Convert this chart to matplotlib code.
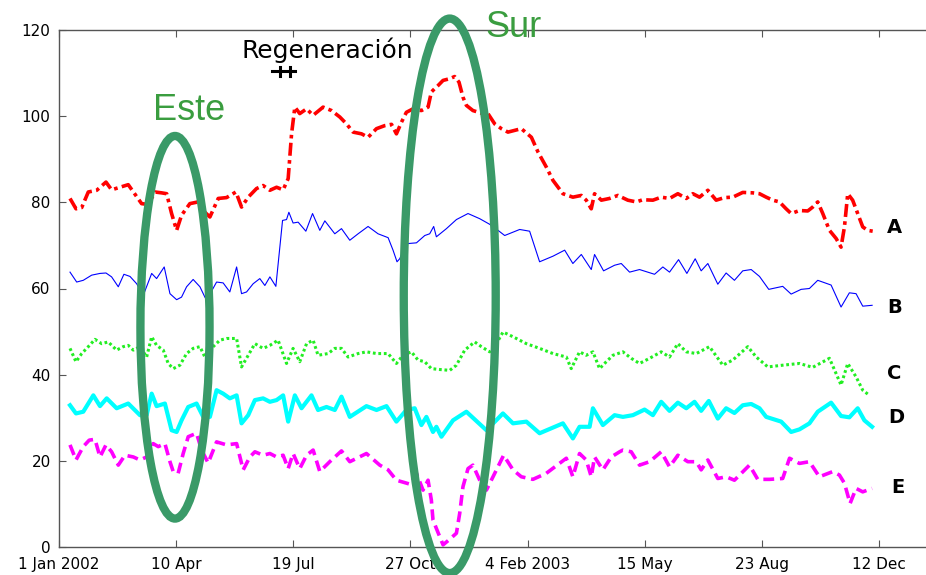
import matplotlib
matplotlib.use("Agg")
import matplotlib.pyplot as plt
from matplotlib.patches import Ellipse

# ---------------- data (x = days since 1 Jan 2002) ----------------
tick_days = [0, 100, 200, 300, 400, 500, 600, 700]
tick_labels = ['1 Jan 2002', '10 Apr', '19 Jul', '27 Oct', '4 Feb 2003', '15 May', '23 Aug', '12 Dec']
y_ticks = [0, 20, 40, 60, 80, 100, 120]

days_A = [9.4, 14.5, 19.4, 25.0, 32.2, 40.1, 44.9, 52.0, 59.1, 64.8, 70.5, 76.2, 81.9, 87.6, 91.9, 96.1,
          100.4, 104.6, 111.7, 118.8, 124.5, 128.8, 135.9, 143.0, 151.0, 155.8, 161.5, 168.6, 174.2, 180.0,
          185.7, 191.3, 195.6, 198.5, 201.3, 205.5, 211.3, 216.9, 225.4, 232.6, 239.7, 245.4, 251.0, 258.2,
          263.8, 271.0, 278.0, 283.8, 288.0, 292.3, 296.5, 302.2, 309.3, 315.0, 317.8, 320.7, 323.5, 327.8,
          333.5, 337.7, 341.4, 344.8, 347.7, 353.3, 360.5, 366.1, 371.9, 377.6, 383.2, 388.9, 394.6, 403.2,
          408.8, 415.9, 421.6, 430.1, 438.6, 445.8, 450.0, 454.3, 457.1, 462.9, 469.9, 477.0, 485.5, 492.7,
          498.3, 506.9, 514.0, 521.1, 528.2, 535.4, 541.0, 546.7, 553.8, 560.9, 568.0, 575.1, 583.6, 592.2,
          597.9, 603.6, 609.2, 614.9, 620.6, 624.9, 632.0, 639.1, 643.3, 647.6, 651.9, 657.6, 663.3, 667.5,
          670.4, 673.2, 677.4, 681.7, 686.0, 690.2, 694.5]
vals_A = [80.9, 78.5, 78.8, 82.4, 82.8, 84.7, 82.9, 83.5, 84.1, 81.9, 79.7, 79.5, 82.4, 82.2, 82.0, 77.4,
          73.5, 77.0, 79.7, 80.1, 77.7, 76.6, 80.9, 81.1, 82.4, 78.9, 81.2, 83.2, 83.9, 82.8,
          83.5, 82.9, 85.5, 95.9, 102.1, 100.6, 101.7, 100.2, 102.1, 101.3, 99.8, 98.2, 96.3, 95.9,
          95.1, 97.1, 97.8, 98.1, 95.9, 98.6, 100.9, 101.7, 101.3, 102.1, 105.6, 106.4, 107.1, 108.3,
          108.7, 109.2, 107.9, 104.4, 102.5, 101.3, 100.7, 100.6, 98.2, 97.1, 96.3, 96.7, 97.1, 95.1,
          91.7, 88.2, 85.1, 82.0, 81.2, 81.6, 80.5, 78.5, 82.0, 80.5, 80.9, 81.6, 80.5, 80.1,
          80.6, 80.5, 81.2, 80.9, 82.0, 80.9, 82.0, 81.2, 82.8, 80.5, 81.1, 81.2, 82.3, 82.2,
          82.0, 81.2, 80.5, 80.1, 78.5, 77.4, 78.1, 78.0, 78.9, 80.1, 77.4, 73.5, 71.6, 69.6,
          74.3, 82.0, 80.5, 77.4, 74.3, 73.5, 73.3]

days_B = [9.4, 15.1, 20.7, 27.9, 35.0, 40.1, 44.9, 50.6, 55.4, 60.6, 66.3, 71.9, 79.1, 83.3, 89.8, 94.7,
          100.4, 104.6, 108.9, 114.5, 120.3, 124.5, 126.0, 134.5, 140.1, 145.8, 151.6, 155.8, 160.1, 165.7,
          171.4, 175.7, 180.0, 185.1, 190.8, 194.2, 196.2, 199.8, 204.1, 210.7, 216.4, 222.6, 226.9, 235.4,
          241.1, 248.2, 255.3, 263.8, 272.3, 280.9, 285.1, 288.5, 290.8, 296.5, 305.1, 312.2, 316.4, 319.8,
          322.1, 330.7, 339.2, 349.1, 359.1, 367.6, 374.7, 380.4, 393.2, 401.7, 410.2, 421.6, 431.6, 438.6,
          445.8, 454.3, 457.1, 464.8, 474.2, 479.9, 487.0, 495.5, 508.3, 515.4, 521.1, 528.8, 535.9, 543.0,
          548.1, 553.8, 562.3, 569.4, 576.5, 583.6, 590.8, 597.9, 605.8, 617.7, 624.9, 633.4, 640.5, 647.6,
          659.0, 667.5, 674.6, 680.3, 686.0, 694.0]
vals_B = [63.8, 61.5, 61.9, 63.1, 63.5, 63.6, 62.7, 60.4, 63.3, 62.8, 61.1, 58.4, 63.5, 62.3, 65.0, 58.8,
          57.4, 58.0, 60.4, 62.1, 60.4, 58.0, 57.3, 61.5, 61.3, 59.2, 65.0, 58.8, 59.2, 61.1,
          62.3, 60.7, 62.7, 60.5, 75.8, 76.0, 77.7, 75.2, 75.4, 73.3, 77.4, 73.5, 75.7, 72.7,
          73.9, 71.2, 72.7, 74.4, 72.7, 71.8, 68.9, 66.2, 66.9, 70.4, 70.6, 72.3, 72.7, 74.4,
          72.0, 73.9, 76.0, 77.4, 76.2, 74.9, 73.5, 72.3, 73.7, 73.3, 66.2, 67.5, 68.9, 65.8,
          67.9, 64.4, 67.9, 64.1, 65.4, 65.8, 63.8, 64.4, 63.3, 65.0, 63.8, 66.7, 63.5, 66.9,
          64.1, 65.8, 61.0, 63.6, 61.9, 64.1, 64.4, 62.8, 59.8, 60.5, 58.7, 59.8, 60.0, 61.9,
          60.8, 55.7, 59.0, 58.8, 55.9, 56.1]

days_C = [9.4, 14.5, 19.4, 25.0, 30.7, 36.4, 42.0, 49.2, 54.8, 59.1, 63.4, 69.1, 74.8, 79.1, 83.3, 89.0,
          93.2, 97.5, 103.2, 108.9, 114.5, 120.3, 124.5, 131.6, 137.3, 143.0, 151.6, 155.8, 161.5, 167.2,
          174.2, 180.0, 187.0, 194.2, 199.8, 205.5, 211.3, 216.9, 221.1, 229.7, 235.4, 241.1, 246.7, 255.3,
          262.4, 271.0, 280.9, 288.0, 293.6, 300.8, 306.4, 312.2, 317.8, 324.9, 333.5, 339.2, 346.3, 354.8,
          360.5, 367.6, 373.3, 379.0, 387.5, 398.9, 410.2, 421.6, 433.0, 437.2, 444.3, 450.0, 455.7, 461.4,
          467.1, 472.8, 481.3, 488.4, 495.5, 504.1, 514.0, 521.1, 528.2, 535.4, 543.9, 555.2, 566.6, 575.1,
          587.9, 595.1, 605.0, 617.7, 632.0, 643.3, 657.6, 667.5, 673.2, 680.3, 686.0, 691.7]
vals_C = [46.1, 43.0, 44.9, 46.5, 48.2, 47.2, 47.6, 45.7, 46.5, 46.8, 45.7, 46.5, 44.1, 48.8, 46.8, 45.7,
          42.6, 41.4, 42.2, 44.9, 46.1, 46.5, 44.1, 46.5, 48.0, 48.4, 48.4, 41.8, 44.5, 47.2,
          46.1, 46.8, 48.0, 42.6, 46.1, 43.0, 47.2, 48.0, 44.5, 44.9, 46.1, 46.1, 44.1, 44.9,
          45.3, 44.9, 44.9, 42.6, 44.5, 45.3, 43.4, 43.0, 41.4, 41.2, 41.0, 42.2, 45.7, 47.6,
          46.5, 45.3, 47.2, 49.9, 48.8, 47.2, 46.1, 44.9, 44.1, 41.4, 45.3, 44.5, 45.3, 41.4,
          43.0, 44.5, 45.3, 43.8, 42.6, 43.8, 45.3, 44.1, 47.2, 45.3, 44.9, 46.5, 42.2, 43.4,
          46.5, 44.1, 41.8, 42.2, 42.6, 41.7, 43.8, 37.6, 42.6, 39.5, 36.4, 35.2]

days_D = [9.4, 14.5, 20.7, 29.3, 35.0, 40.7, 49.2, 59.1, 69.1, 74.8, 79.1, 83.3, 90.4, 96.1, 100.4, 104.6,
          110.3, 117.4, 123.1, 128.8, 134.5, 140.1, 145.8, 151.6, 155.8, 161.5, 167.2, 174.2, 180.0, 185.7,
          191.3, 195.6, 201.3, 207.0, 215.5, 221.1, 228.3, 235.4, 241.1, 248.2, 262.4, 271.0, 279.5, 288.0,
          296.5, 303.6, 309.3, 313.6, 319.2, 322.1, 326.4, 336.3, 347.7, 364.8, 378.9, 387.5, 398.9, 410.2,
          430.1, 438.6, 444.3, 452.9, 455.7, 464.2, 474.2, 481.3, 489.8, 499.8, 506.9, 514.0, 521.1, 528.2,
          535.4, 542.4, 548.1, 554.6, 562.3, 569.4, 576.5, 583.6, 590.8, 597.9, 603.6, 616.4, 624.9, 632.0,
          640.5, 647.6, 659.0, 667.5, 674.6, 681.7, 687.4, 694.0]
vals_D = [32.9, 31.0, 31.4, 35.2, 32.7, 34.5, 32.2, 33.3, 30.6, 30.6, 35.6, 32.7, 33.3, 27.1, 26.7, 29.4,
          32.5, 33.3, 30.2, 30.2, 36.4, 35.6, 34.5, 35.2, 28.7, 30.6, 34.1, 34.5, 33.7, 34.1,
          35.2, 29.1, 35.2, 32.2, 35.2, 31.8, 32.5, 31.8, 34.9, 30.2, 32.7, 31.8, 32.7, 29.1,
          31.8, 32.2, 28.3, 30.2, 26.7, 27.9, 25.6, 29.4, 31.4, 27.1, 31.0, 28.7, 29.1, 26.4,
          28.7, 25.2, 27.9, 27.9, 32.2, 28.3, 30.6, 30.2, 30.6, 31.9, 30.6, 33.7, 31.6, 33.5,
          32.2, 33.7, 31.6, 33.9, 29.8, 32.2, 31.1, 32.9, 33.2, 32.2, 30.2, 29.1, 26.7, 27.3,
          28.7, 31.4, 33.5, 30.4, 30.1, 32.2, 29.4, 27.9]

days_E = [9.4, 14.5, 20.7, 25.8, 30.7, 35.0, 40.1, 44.9, 50.6, 56.3, 63.4, 69.1, 74.8, 80.4, 84.7, 90.4,
          94.7, 97.5, 101.7, 106.0, 110.3, 117.4, 121.7, 127.3, 134.5, 143.0, 151.6, 157.2, 162.9, 167.2,
          174.2, 180.0, 185.7, 191.3, 195.6, 199.8, 205.5, 211.3, 216.9, 222.6, 231.1, 241.1, 248.2, 262.4,
          273.8, 280.9, 288.0, 299.4, 305.1, 310.7, 315.0, 317.8, 319.2, 322.1, 327.8, 333.5, 339.2, 342.0,
          344.8, 349.1, 353.3, 359.1, 364.8, 371.9, 379.5, 387.5, 394.6, 404.5, 415.9, 433.0, 438.6, 444.3,
          450.0, 454.3, 457.1, 464.2, 471.4, 478.5, 481.3, 488.4, 495.5, 504.1, 514.0, 521.1, 528.2, 536.7,
          543.9, 548.1, 553.8, 562.3, 569.4, 576.5, 589.3, 596.4, 606.4, 617.7, 623.5, 632.0, 640.5, 649.0,
          660.4, 666.1, 670.4, 675.2, 680.3, 686.0, 694.0]
vals_E = [23.7, 20.2, 23.3, 24.8, 25.0, 20.9, 23.7, 22.1, 19.0, 21.3, 20.9, 20.2, 20.9, 24.0, 23.3, 24.0,
          19.8, 17.5, 17.1, 21.7, 25.6, 26.4, 22.5, 19.5, 24.4, 23.7, 24.0, 17.9, 20.9, 22.1,
          21.3, 21.7, 20.9, 21.3, 18.2, 21.7, 18.2, 21.3, 22.5, 17.5, 19.8, 22.3, 19.8, 21.7,
          19.0, 17.9, 15.5, 14.6, 17.1, 13.2, 15.5, 10.9, 6.3, 4.3, 0.5, 1.8, 3.2, 7.8,
          14.0, 18.2, 19.0, 15.5, 13.2, 17.1, 21.3, 17.9, 16.3, 15.7, 17.1, 20.6, 16.3, 21.7,
          20.2, 16.3, 20.9, 17.9, 20.9, 22.1, 22.5, 22.1, 19.0, 19.8, 22.1, 18.6, 21.3, 19.8,
          19.8, 17.9, 20.2, 15.9, 16.3, 15.5, 19.0, 15.7, 15.7, 15.9, 20.6, 19.4, 19.8, 16.3,
          17.5, 16.7, 14.8, 10.1, 13.6, 12.8, 13.6]

series_names = ['A', 'B', 'C', 'D', 'E']

# regeneration marker
regen_start, regen_end, regen_level = 181.7, 201.3, 110.4
regen_ticks = [188.5, 197.0]

# highlighted regions (center day, center value, width days, height value)
este_region = (99.0, 51.0, 59.0, 88.8)
sur_region = (333.5, 58.3, 78.5, 128.7)

# ---------------- figure ----------------
W, H = 926, 575
fig = plt.figure(figsize=(W / 100, H / 100), dpi=100)
ax = fig.add_axes([59 / W, 28 / H, (W - 59) / W, 517 / H])
ax.set_xlim(0, 740)
ax.set_ylim(0, 120)

ax.plot(days_A, vals_A, color='red', lw=2.6, dashes=(3.6, 1.2, 1.0, 1.2))
ax.plot(days_B, vals_B, color='blue', lw=0.8)
ax.plot(days_C, vals_C, color='#22ee22', lw=2.2, dashes=(0.9, 0.9))
ax.plot(days_D, vals_D, color='cyan', lw=3.0)
ax.plot(days_E, vals_E, color='magenta', lw=2.6, dashes=(3.0, 1.6))

ell_color = '#3a9a68'
for (cx, cy, w, h) in (este_region, sur_region):
    ax.add_patch(Ellipse((cx, cy), w, h, fill=False, edgecolor=ell_color, lw=6, clip_on=False, zorder=5))

# regeneration marker
ax.plot([regen_start, regen_end], [regen_level, regen_level], color='black', lw=2.2, clip_on=False)
for t in regen_ticks:
    ax.plot([t, t], [regen_level - 1.0, regen_level + 1.0], color='black', lw=2.2, clip_on=False)

ax.text(229.4, 113.4, 'Regeneración', fontsize=18, family='DejaVu Sans', ha='center', va='baseline', color='black')
ax.text(110.9, 99.0, 'Este', fontsize=26, family='Liberation Sans', ha='center', va='baseline', color='#3a9d3f')
ax.text(388.1, 118.3, 'Sur', fontsize=26, family='Liberation Sans', ha='center', va='baseline', color='#3a9d3f')

label_pos = {'A': (713, 74.2), 'B': (713, 55.6), 'C': (713, 40.2), 'D': (715, 30.0), 'E': (716, 13.8)}
for name in series_names:
    x, y = label_pos[name]
    ax.text(x, y, name, fontsize=14, fontweight='bold', family='DejaVu Sans', ha='center', va='center')

ax.set_xticks(tick_days)
ax.set_xticklabels(tick_labels)
ax.set_yticks(y_ticks)
for s in ['left', 'top', 'bottom']:
    ax.spines[s].set_color('#555555')
    ax.spines[s].set_linewidth(1.0)
ax.spines['right'].set_visible(False)
ax.tick_params(axis='both', direction='in', length=5, color='#555555', labelsize=11, labelcolor='black')
ax.tick_params(axis='x', top=True, pad=7)
ax.tick_params(axis='y', pad=6)

fig.savefig('out.png', dpi=100)
